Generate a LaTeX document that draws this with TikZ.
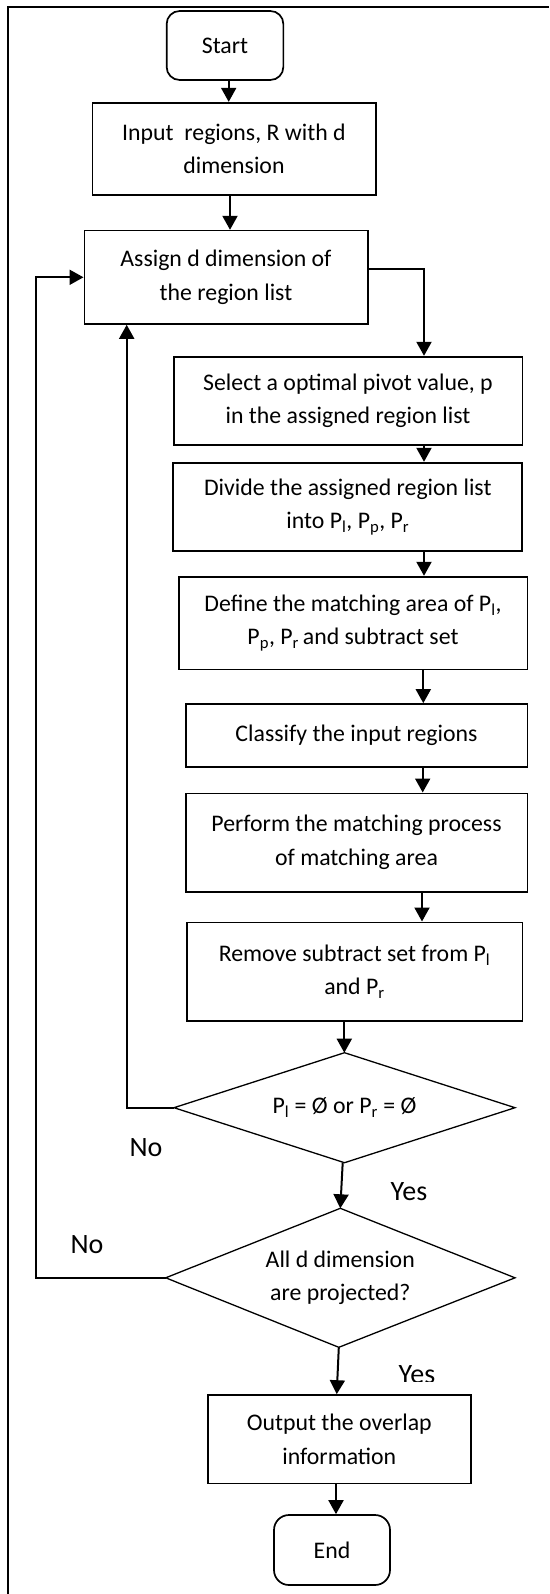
\documentclass[tikz,border=0pt]{standalone}
\usepackage{fontspec}
\setmainfont{Carlito}
\usetikzlibrary{arrows.meta,calc}
\begin{document}
\begin{tikzpicture}[x=1pt,y=-1pt,
  box/.style={draw,line width=1.7pt,rectangle,inner sep=0pt,align=center,font=\fontsize{23.8}{33.5}\selectfont},
  term/.style={box,rounded corners=13pt},
  dtext/.style={inner sep=0pt,align=center,font=\fontsize{23.8}{33.5}\selectfont},
  dline/.style={line width=1.3pt,line join=miter},
  arr/.style={line width=2pt,-{Triangle[length=14pt,width=15pt]}},
  lbl/.style={font=\fontsize{28}{30}\selectfont,inner sep=0pt}]
\useasboundingbox (0,0) rectangle (549,1594);
% frame
\draw[line width=2pt] (8.3,1594) -- (8.3,7.5) -- (549,7.5);

\node[term,minimum width=116.7pt,minimum height=69pt] (start) at (225,45.5) {Start};
\node[box,minimum width=283.3pt,minimum height=92pt] (input) at (234,148.7) {Input\ \ regions, R with d\\dimension};
\node[box,minimum width=283.3pt,minimum height=93.3pt] (assign) at (226,277.3) {Assign d dimension of\\the region list};
\node[box,minimum width=348.7pt,minimum height=88.3pt] (select) at (348,400.8) {Select a optimal pivot value, p\\in the assigned region list};
\node[box,minimum width=349pt,minimum height=88.3pt] (divide) at (347.8,506.8) {Divide the assigned region list\\into P\textsubscript{l}, P\textsubscript{p}, P\textsubscript{r}};
\node[box,minimum width=348.7pt,minimum height=92.7pt] (define) at (353,623) {Define the matching area of P\textsubscript{l},\\P\textsubscript{p}, P\textsubscript{r}\,and subtract set};
\node[box,minimum width=341.7pt,minimum height=63pt] (classify) at (356.5,735.5) {Classify the input regions};
\node[box,minimum width=341.7pt,minimum height=98.3pt] (perform) at (356.5,842.5) {Perform the matching process\\of matching area};
\node[box,minimum width=335.7pt,minimum height=98.7pt] (remove) at (354.5,971.7) {Remove subtract set from P\textsubscript{l}\\and P\textsubscript{r}};

% decision 1
\node[dtext] (d1) at (344.5,1107.7) {P\textsubscript{l} = Ø or P\textsubscript{r} = Ø};
\coordinate (d1n) at ($(d1.center)+(0,-55)$);
\coordinate (d1s) at ($(d1.center)+(0,55)$);
\coordinate (d1w) at ($(d1.center)+(-170.5,0)$);
\coordinate (d1e) at ($(d1.center)+(170.5,0)$);
\draw[dline] (d1n) -- (d1e) -- (d1s) -- (d1w) -- cycle;

% decision 2
\node[dtext] (d2) at (340.3,1277.8) {All d dimension\\are projected?};
\coordinate (d2n) at ($(d2.center)+(0,-69.5)$);
\coordinate (d2s) at ($(d2.center)+(-1.5,69.5)$);
\coordinate (d2w) at ($(d2.center)+(-174.6,0)$);
\coordinate (d2e) at ($(d2.center)+(174.7,0)$);
\draw[dline] (d2n) -- (d2e) -- (d2s) -- (d2w) -- cycle;

\node[box,minimum width=263.3pt,minimum height=88.3pt] (output) at (339.3,1439.2) {Output the overlap\\information};
\node[term,rounded corners=15pt,minimum width=116pt,minimum height=70pt] (end) at (332,1550) {End};

% labels
\node[lbl] (no1) at (146,1148) {No};
\node[lbl] (yes1) at (409,1192) {Yes};
\node[lbl] (no2) at (87,1245) {No};
\begin{scope}
\clip (370,1340) rectangle (470,1381.7);
\node[lbl] (yes2) at (417,1375) {Yes};
\end{scope}

% connectors
\draw[arr] ([xshift=3.7pt]start.south) -- ([xshift=3.7pt]start.south |- input.north);
\draw[arr] ([xshift=-4pt]input.south) -- ([xshift=-4pt]input.south |- assign.north);
\coordinate (c1) at ([yshift=8pt]assign.east -| 424,0);
\draw[arr] ([yshift=8pt]assign.east) -- (c1) -- (c1 |- select.north);
\draw[arr] ([xshift=76pt]select.south) -- ([xshift=76pt]select.south |- divide.north);
\draw[arr] ([xshift=76.2pt]divide.south) -- ([xshift=76.2pt]divide.south |- define.north);
\draw[arr] ([xshift=70.3pt]define.south) -- ([xshift=70.3pt]define.south |- classify.north);
\draw[arr] ([xshift=66.2pt]classify.south) -- ([xshift=66.2pt]classify.south |- perform.north);
\draw[arr] ([xshift=65.5pt]perform.south) -- ([xshift=65.5pt]perform.south |- remove.north);
\draw[arr] ([xshift=-10.2pt]remove.south) -- ([xshift=-10.2pt]remove.south |- d1n);
\draw[arr] ([xshift=-1.8pt]d1s) -- (d2n);
\draw[arr] (d2s) -- ([xshift=-2.6pt]output.north);
\draw[arr] ([xshift=-3.3pt]output.south) -- ([xshift=-3.3pt]output.south |- end.north);
% loops
\coordinate (c2) at (d1w -| 126.7,0);
\draw[arr] (d1w) -- (c2) -- (c2 |- assign.south);
\coordinate (c3) at (d2w -| 35.7,0);
\draw[arr] (d2w) -- (c3) -- (c3 |- assign.west) -- (assign.west);
\end{tikzpicture}
\end{document}
